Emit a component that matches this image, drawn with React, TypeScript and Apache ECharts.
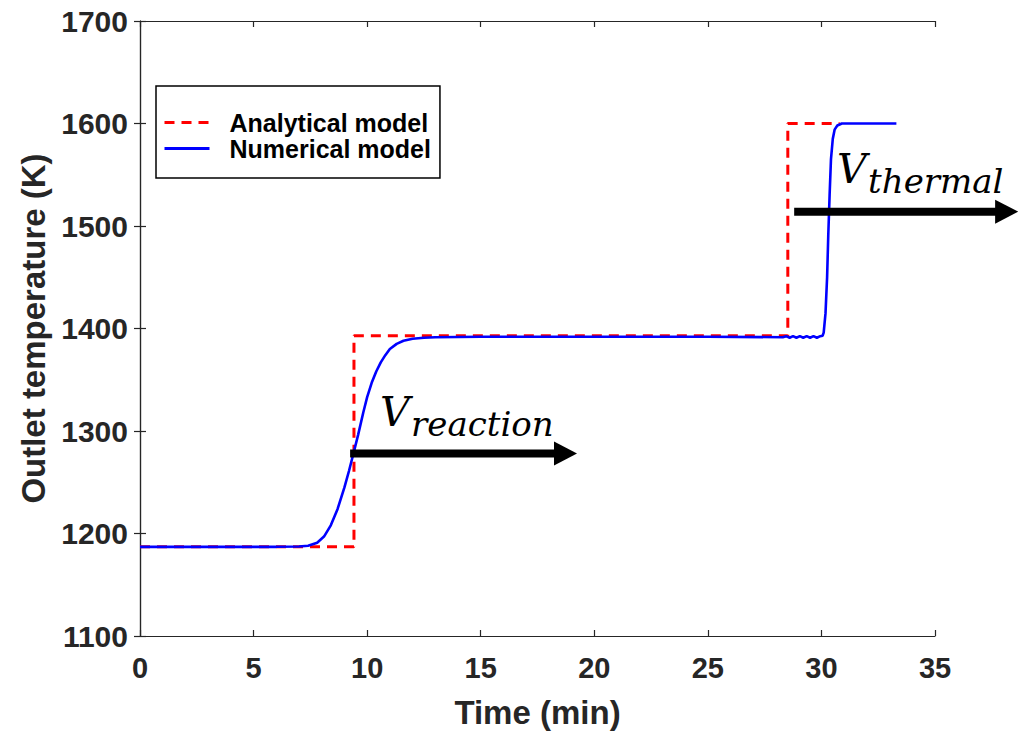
import React, { useEffect, useRef } from "react";
import * as echarts from "echarts";

// ---- data ----
const xTicks = { min: 0, max: 35, interval: 5 };
const yTicks = { min: 1100, max: 1700, interval: 100 };

const analyticalName = "Analytical model";
const numericalName = "Numerical model";

// Analytical model: step profile [time (min), temperature (K)]
const analytical: number[][] = [
  [0, 1187],
  [9.42, 1187],
  [9.42, 1393],
  [28.52, 1393],
  [28.52, 1600],
  [30.8, 1600],
];

// Numerical model: smooth response [time (min), temperature (K)]
const numerical: number[][] = [
  [0, 1187], [2, 1187], [4, 1187], [6, 1187], [7, 1187.3], [7.4, 1188],
  [7.8, 1191], [8.1, 1197], [8.4, 1208], [8.7, 1224], [9.0, 1245],
  [9.2, 1261], [9.42, 1280], [9.6, 1296], [9.83, 1318], [10.0, 1333],
  [10.2, 1347], [10.4, 1358], [10.6, 1367], [10.8, 1374], [11.0, 1380],
  [11.3, 1385], [11.6, 1388], [12.0, 1390], [12.5, 1391], [13, 1391.5],
  [15, 1392], [20, 1392], [25, 1392], [28.3, 1391.5], [28.45, 1392.5],
  [28.6, 1391], [28.75, 1392.5], [28.9, 1391], [29.05, 1392.5], [29.2, 1391],
  [29.35, 1392.5], [29.5, 1391], [29.65, 1392.5], [29.8, 1391], [29.95, 1392.5],
  [30.05, 1393], [30.1, 1396], [30.18, 1415], [30.25, 1450], [30.3, 1490],
  [30.36, 1530], [30.42, 1565], [30.5, 1585], [30.58, 1594], [30.7, 1598],
  [30.9, 1600], [33.3, 1600],
];

// Annotations in data coordinates
const arrows = [
  { from: [9.25, 1278], to: [19.24, 1278] },
  { from: [28.8, 1514], to: [38.66, 1514] },
];
const labels = [
  { main: "V", sub: "reaction", at: [10.57, 1304.5] },
  { main: "V", sub: "thermal", at: [30.69, 1542] },
];

const AXIS_COLOR = "#262626";
const SANS = "Liberation Sans, Arial, sans-serif";
const SERIF = "DejaVu Serif, serif";

export default function App() {
  const ref = useRef<HTMLDivElement>(null);

  useEffect(() => {
    document.body.style.margin = "0";
    if (!ref.current) return;
    const chart = echarts.init(ref.current, null, { renderer: "svg" });

    const axisCommon = {
      type: "value" as const,
      axisLine: { show: true, lineStyle: { color: AXIS_COLOR, width: 1.2 } },
      axisTick: { show: true, inside: true, length: 6, lineStyle: { color: AXIS_COLOR, width: 1.2 } },
      splitLine: { show: false },
    };
    const plain = (v: number) => String(v);

    const option: any = {
      animation: false,
      backgroundColor: "#ffffff",
      grid: { left: 140, right: 83, top: 21, bottom: 97, containLabel: false },
      legend: {
        show: true,
        orient: "vertical",
        left: 156,
        top: 86,
        padding: [24, 9, 17, 7],
        itemGap: 1,
        itemWidth: 45,
        itemHeight: 25,
        borderColor: "#000",
        borderWidth: 1.5,
        backgroundColor: "#fff",
        itemStyle: { opacity: 0 },
        lineStyle: { width: 3 },
        textStyle: {
          fontFamily: SANS,
          fontWeight: "bold",
          fontSize: 25,
          color: "#000",
          padding: [0, 0, 0, 15],
        },
        data: [analyticalName, numericalName],
      },
      xAxis: [
        {
          ...axisCommon,
          min: xTicks.min,
          max: xTicks.max,
          interval: xTicks.interval,
          position: "bottom",
          name: "Time (min)",
          nameLocation: "middle",
          nameGap: 60,
          nameTextStyle: { fontFamily: SANS, fontWeight: "bold", fontSize: 33, color: AXIS_COLOR },
          axisLabel: { margin: 17, fontFamily: SANS, fontWeight: "bold", fontSize: 29, color: AXIS_COLOR, formatter: plain },
        },
        {
          ...axisCommon,
          min: xTicks.min,
          max: xTicks.max,
          interval: xTicks.interval,
          position: "top",
          axisLabel: { show: false },
        },
      ],
      yAxis: [
        {
          ...axisCommon,
          min: yTicks.min,
          max: yTicks.max,
          interval: yTicks.interval,
          position: "left",
          name: "Outlet temperature (K)",
          nameLocation: "middle",
          nameGap: 80,
          nameTextStyle: { fontFamily: SANS, fontWeight: "bold", fontSize: 33, color: AXIS_COLOR },
          axisLabel: { margin: 12, fontFamily: SANS, fontWeight: "bold", fontSize: 30, color: AXIS_COLOR, formatter: plain },
        },
        {
          ...axisCommon,
          min: yTicks.min,
          max: yTicks.max,
          interval: yTicks.interval,
          position: "right",
          axisLabel: { show: false },
        },
      ],
      series: [
        {
          name: analyticalName,
          type: "line",
          data: analytical,
          symbol: "none",
          showSymbol: false,
          lineStyle: { color: "#ff0000", width: 3, type: [10, 7] },
          itemStyle: { color: "#ff0000" },
          z: 2,
        },
        {
          name: numericalName,
          type: "line",
          data: numerical,
          symbol: "none",
          showSymbol: false,
          smooth: false,
          lineStyle: { color: "#0000ff", width: 2.6 },
          itemStyle: { color: "#0000ff" },
          z: 3,
        },
      ],
    };

    chart.setOption(option);

    const toPx = (pt: number[]) =>
      chart.convertToPixel({ xAxisIndex: 0, yAxisIndex: 0 }, pt) as number[];

    const graphics: any[] = [];
    const headLen = 23;
    const headHalf = 12;
    arrows.forEach((a) => {
      const p1 = toPx(a.from);
      const p2 = toPx(a.to);
      graphics.push({
        type: "line",
        z: 100,
        shape: { x1: p1[0], y1: p1[1], x2: p2[0] - headLen + 2, y2: p2[1] },
        style: { stroke: "#000", lineWidth: 8 },
      });
      graphics.push({
        type: "polygon",
        z: 100,
        shape: {
          points: [
            [p2[0] - headLen, p2[1] - headHalf],
            [p2[0], p2[1]],
            [p2[0] - headLen, p2[1] + headHalf],
          ],
        },
        style: { fill: "#000" },
      });
    });
    labels.forEach((l) => {
      const p = toPx(l.at);
      graphics.push({
        type: "text",
        z: 101,
        x: p[0],
        y: p[1] - 14,
        style: {
          text: l.main,
          fontFamily: SERIF,
          fontStyle: "italic",
          fontSize: 41,
          fill: "#000",
          align: "left",
          verticalAlign: "middle",
        },
      });
      graphics.push({
        type: "text",
        z: 101,
        x: p[0] + 31,
        y: p[1] - 2,
        style: {
          text: l.sub,
          fontFamily: SERIF,
          fontStyle: "italic",
          fontSize: 34,
          fill: "#000",
          align: "left",
          verticalAlign: "middle",
        },
      });
    });

    chart.setOption({ graphic: graphics });

    return () => {
      chart.dispose();
    };
  }, []);

  return <div ref={ref} style={{ width: 1018, height: 734 }} />;
}
